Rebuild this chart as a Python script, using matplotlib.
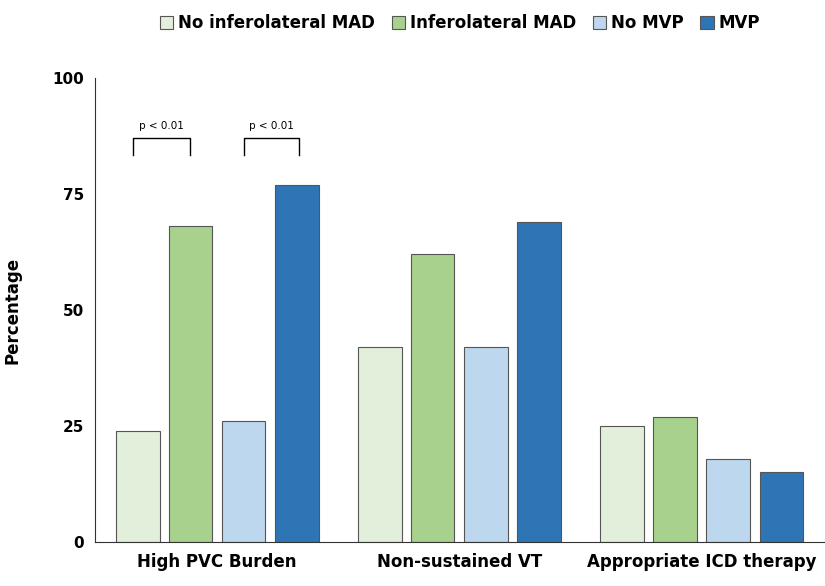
import matplotlib
matplotlib.use("Agg")
import matplotlib.pyplot as plt
import numpy as np

categories = ["High PVC Burden", "Non-sustained VT", "Appropriate ICD therapy"]
series = ["No inferolateral MAD", "Inferolateral MAD", "No MVP", "MVP"]
values = [
    [24, 42, 25],
    [68, 62, 27],
    [26, 42, 18],
    [77, 69, 15],
]
colors = ["#E2EFDA", "#A9D18E", "#BDD7EE", "#2E75B6"]
yticks = [0, 25, 50, 75, 100]

fig = plt.figure(figsize=(8.25, 5.86), dpi=100)
ax = fig.add_axes([0.115, 0.075, 0.885, 0.792])
offsets = [-0.327, -0.11, 0.11, 0.33]
w = 0.18
x = np.arange(len(categories))
for i, s in enumerate(series):
    ax.bar(x + offsets[i], values[i], w, color=colors[i], edgecolor="#555555",
           linewidth=0.8, label=s)

ax.set_xlim(-0.504, 2.51)
ax.set_ylim(0, 100)
ax.set_yticks(yticks)
ax.set_xticks(x)
ax.set_xticklabels(categories, fontsize=12, fontweight="bold")
for t in ax.get_yticklabels():
    t.set_fontweight("bold"); t.set_fontsize(11)
ax.tick_params(length=0, pad=8)
ax.set_ylabel("Percentage", fontsize=12, fontweight="bold", labelpad=22)
for sp in ["top", "right"]:
    ax.spines[sp].set_visible(False)
for sp in ["left", "bottom"]:
    ax.spines[sp].set_color("#333333")

# significance brackets
for x1, x2 in [(offsets[0] - 0.02, offsets[1]), (offsets[2], offsets[3] + 0.01)]:
    ax.plot([x1, x1, x2, x2], [83.5, 87, 87, 83.5], color="black", lw=1)
    ax.text((x1 + x2) / 2, 88.5, "p < 0.01", ha="center", va="bottom", fontsize=7.5)

ax.legend(loc="upper center", bbox_to_anchor=(0.5, 1.17), ncol=4, frameon=False,
          prop={"weight": "bold", "size": 12}, handlelength=0.8, handleheight=0.8,
          handletextpad=0.3, columnspacing=1.0)
fig.savefig("out.png", dpi=100)
